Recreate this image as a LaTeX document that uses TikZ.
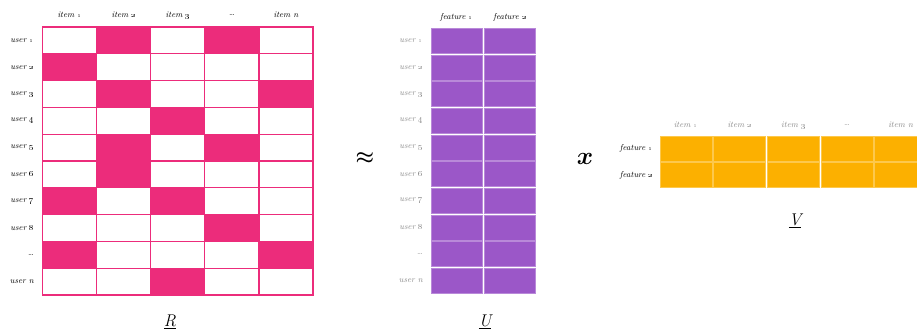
\documentclass[tikz,border=0pt]{standalone}
\usepackage{tikz}
\definecolor{rpink}{HTML}{EC2C7B}
\definecolor{upurple}{HTML}{9B57C8}
\definecolor{vorange}{HTML}{FCB000}
\definecolor{lbgray}{HTML}{8C8C8C}
\newcommand{\rowname}[1]{\ifnum#1=9 \dots\else\ifnum#1=10 user n\else user \oldstylenums{#1}\fi\fi}
\newcommand{\colname}[1]{\ifnum#1=4 \dots\else\ifnum#1=5 item n\else item \oldstylenums{#1}\fi\fi}
\begin{document}
\begin{tikzpicture}[x=1pt,y=-1pt,
  lbl/.style={font=\fontsize{8.5}{9}\selectfont\itshape, inner sep=0pt},
  graylbl/.style={lbl, text=lbgray},
  matname/.style={font=\fontsize{17}{18}\selectfont\itshape, inner sep=0pt},
  op/.style={font=\fontsize{20}{21}\selectfont\boldmath, inner sep=0pt},
  rcell/.style={draw=rpink, line width=1.2pt, fill=white},
  rhit/.style={draw=rpink, line width=1.2pt, fill=rpink},
  ucell/.style={fill=upurple, draw=upurple!70!white, line width=0.4pt},
  vcell/.style={fill=vorange, draw=vorange!70!white, line width=0.4pt}]
\useasboundingbox[fill=white] (0,0) rectangle (917,333);

% ---------- R : rating matrix (10 users x 5 items) ----------
\def\rx{42.5}\def\ry{27}\def\rw{54.1}\def\rh{26.8}
\foreach \r in {1,...,10}{
  \foreach \c in {1,...,5}{
    \draw[rcell] ({\rx+(\c-1)*\rw},{\ry+(\r-1)*\rh}) rectangle ++(\rw,\rh);
  }
}
\foreach \r/\c in {1/2,1/4,2/1,3/2,3/5,4/3,5/2,5/4,6/2,7/1,7/3,8/4,9/1,9/5,10/3}{
  \draw[rhit] ({\rx+(\c-1)*\rw},{\ry+(\r-1)*\rh}) rectangle ++(\rw,\rh);
}
\draw[rpink, line width=1.8pt] (\rx,\ry) rectangle ++({5*\rw},{10*\rh});
\foreach \c in {1,...,5}{
  \node[lbl] (ritem\c) at ({\rx+(\c-0.5)*\rw},15) {\colname{\c}};
}
\foreach \r in {1,...,10}{
  \node[lbl, anchor=east] (ruser\r) at (34,{\ry+(\r-0.5)*\rh}) {\rowname{\r}};
}
\node[matname] (Rname) at (170,322) {\underline{R}};

% ---------- approximately equal ----------
\node[op] (approx) at (365,158) {$\approx$};

% ---------- U : user features (10 users x 2 features) ----------
\def\ux{430}\def\uy{27.5}\def\uw{53.2}\def\uh{26.65}
\foreach \r in {1,...,10}{
  \foreach \c in {1,2}{
    \draw[ucell] ({\ux+(\c-1)*\uw+0.8},{\uy+(\r-1)*\uh+0.8}) rectangle ++({\uw-1.6},{\uh-1.6});
  }
  \node[graylbl, anchor=east] (uuser\r) at (423,{\uy+(\r-0.5)*\uh}) {\rowname{\r}};
}
\node[lbl] (ufeat1) at ({\ux+0.5*\uw},17) {feature \oldstylenums{1}};
\node[lbl] (ufeat2) at ({\ux+1.5*\uw},17) {feature \oldstylenums{2}};
\node[matname] (Uname) at (485,322) {\underline{U}};

% ---------- times ----------
\node[op, font=\fontsize{24}{25}\selectfont\boldmath] (times) at (585,159) {$x$};

% ---------- V : item features (2 features x 5 items) ----------
\def\vx{659}\def\vy{135.5}\def\vw{53.7}\def\vh{26.2}
\begin{scope}
\clip (0,0) rectangle (917,333);
\foreach \r in {1,2}{
  \foreach \c in {1,...,5}{
    \draw[vcell] ({\vx+(\c-1)*\vw+0.8},{\vy+(\r-1)*\vh+0.8}) rectangle ++({\vw-1.6},{\vh-1.6});
  }
}
\end{scope}
\foreach \c in {1,...,5}{
  \node[graylbl] (vitem\c) at ({\vx+(\c-0.5)*\vw},125) {\colname{\c}};
}
\node[lbl, anchor=east] (vfeat1) at (653,148) {feature \oldstylenums{1}};
\node[lbl, anchor=east] (vfeat2) at (653,175) {feature \oldstylenums{2}};
\node[matname] (Vname) at (795,221) {\underline{V}};
\end{tikzpicture}
\end{document}
